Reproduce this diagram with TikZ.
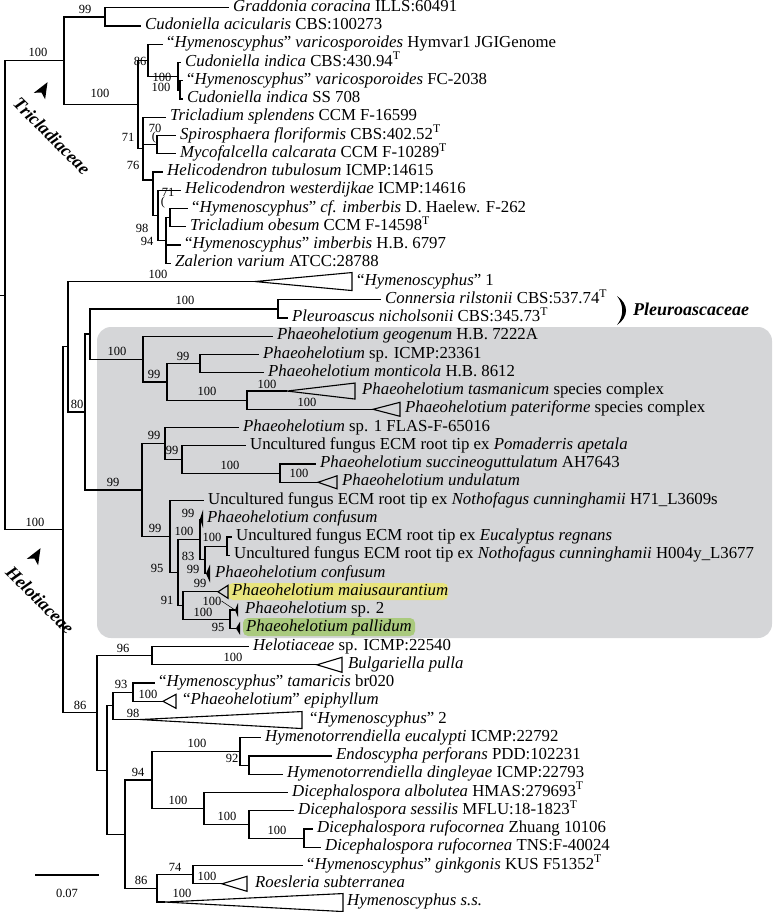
\documentclass[tikz,border=0pt]{standalone}
\usepackage{fontspec}
\setmainfont{Liberation Serif}
\usetikzlibrary{arrows.meta,positioning,calc}
\definecolor{boxgrey}{RGB}{213,214,216}
\definecolor{hlyellow}{RGB}{232,228,125}
\definecolor{hlgreen}{RGB}{170,202,126}
\newcommand{\rowy}[1]{18.25*(#1)-10.45}
\newcommand{\typ}{\textsuperscript{T}}
\tikzset{
  br/.style={line width=1.2pt},
  clps/.style={line width=1.1pt,line join=miter},
  leaf/.style={anchor=west,inner xsep=4pt,inner ysep=0pt,
    text height=11pt,text depth=4pt,font=\fontsize{16.8}{19}\selectfont},
  bs/.style={inner sep=0pt,font=\fontsize{12.5}{14}\selectfont},
  famlbl/.style={inner sep=0pt,font=\fontsize{18}{20}\selectfont\bfseries\itshape},
  hl/.style={rounded corners=5pt},
}
\begin{document}
\begin{tikzpicture}[x=1pt,y=-1pt]
  \useasboundingbox (0,0) rectangle (774,912);
  % shaded Phaeohelotium clade and highlights
  \fill[boxgrey,rounded corners=14pt] (97,327) rectangle (772,638);
  \fill[hlyellow,hl] (228,583) rectangle (448,600);
  \fill[hlgreen,hl] (243,618) rectangle (415,636);

  % internal nodes (x in px, y in rows)
  \coordinate (nBase) at (0,{\rowy{16.75}});
  \coordinate (nR) at (5,{\rowy{16.75}});
  \coordinate (nA) at (64,{\rowy{3.90}});
  \coordinate (nB) at (105,{\rowy{1.5}});
  \coordinate (nC) at (138,{\rowy{6.30}});
  \coordinate (nD) at (148,{\rowy{3.875}});
  \coordinate (nF) at (178,{\rowy{4.75}});
  \coordinate (nG) at (180,{\rowy{5.5}});
  \coordinate (nE) at (143,{\rowy{8.72}});
  \coordinate (nSM) at (157,{\rowy{8.5}});
  \coordinate (nSv) at (153,{\rowy{10.44}});
  \coordinate (nNe) at (158,{\rowy{12.375}});
  \coordinate (nNf) at (166,{\rowy{13.75}});
  \coordinate (nSe) at (170,{\rowy{12.5}});
  \coordinate (nH) at (63,{\rowy{29.6}});
  \coordinate (nI) at (68,{\rowy{19.57}});
  \coordinate (nJ) at (85,{\rowy{23.15}});
  \coordinate (nL) at (90,{\rowy{18.875}});
  \coordinate (nP) at (278,{\rowy{17.5}});
  \coordinate (nPh) at (143,{\rowy{20.25}});
  \coordinate (nM) at (167,{\rowy{21.5}});
  \coordinate (nN) at (200,{\rowy{20.5}});
  \coordinate (nO) at (247,{\rowy{22.5}});
  \coordinate (nQ) at (142,{\rowy{27.42}});
  \coordinate (nRR) at (165,{\rowy{24.875}});
  \coordinate (nU) at (182,{\rowy{25.75}});
  \coordinate (nT) at (280,{\rowy{26.5}});
  \coordinate (nS) at (170,{\rowy{29.97}});
  \coordinate (nV) at (178,{\rowy{31.94}});
  \coordinate (nW) at (200,{\rowy{30.125}});
  \coordinate (nY) at (205,{\rowy{31.25}});
  \coordinate (nZ) at (227,{\rowy{30.5}});
  \coordinate (nX) at (183,{\rowy{33.75}});
  \coordinate (nAA) at (230,{\rowy{34.5}});
  \coordinate (nBB) at (97,{\rowy{39.63}});
  \coordinate (nCC) at (152,{\rowy{36.5}});
  \coordinate (nDD) at (107,{\rowy{42.77}});
  \coordinate (nEE) at (113,{\rowy{39.25}});
  \coordinate (nGG) at (133,{\rowy{38.5}});
  \coordinate (nFF) at (125,{\rowy{46.28}});
  \coordinate (nHH) at (152,{\rowy{43.31}});
  \coordinate (nJJ) at (240,{\rowy{41.75}});
  \coordinate (nLL) at (249,{\rowy{42.5}});
  \coordinate (nKK) at (204,{\rowy{44.875}});
  \coordinate (nMM) at (249,{\rowy{45.75}});
  \coordinate (nNN) at (304,{\rowy{46.5}});
  \coordinate (nII) at (157,{\rowy{49.25}});
  \coordinate (nOO) at (193,{\rowy{48.5}});

  % apices of collapsed clades
  \coordinate (c16) at (255,{\rowy{16}});
  \coordinate (c22) at (287,{\rowy{22}});
  \coordinate (c23) at (373,{\rowy{23}});
  \coordinate (c27) at (318,{\rowy{27}});
  \coordinate (c29) at (200,{\rowy{29}});
  \coordinate (c32) at (206,{\rowy{32}});
  \coordinate (c33) at (218,{\rowy{33}});
  \coordinate (c34) at (235,{\rowy{34}});
  \coordinate (c35) at (236,{\rowy{35}});
  \coordinate (c37) at (317,{\rowy{37}});
  \coordinate (c39) at (163,{\rowy{39}});
  \coordinate (c40) at (140,{\rowy{40}});
  \coordinate (c49) at (222,{\rowy{49}});
  \coordinate (c50) at (165,{\rowy{50}});

  % taxa
  \node[leaf] (l1) at (229,{\rowy{1}}) {\textit{Graddonia coracina} ILLS:60491};
  \node[leaf] (l2) at (141,{\rowy{2}}) {\textit{Cudoniella acicularis} CBS:100273};
  \node[leaf] (l3) at (163,{\rowy{3}}) {``\textit{Hymenoscyphus}'' \textit{varicosporoides} Hymvar1 JGIGenome};
  \node[leaf] (l4) at (181,{\rowy{4}}) {\textit{Cudoniella indica} CBS:430.94\typ};
  \node[leaf] (l5) at (183,{\rowy{5}}) {``\textit{Hymenoscyphus}'' \textit{varicosporoides} FC-2038};
  \node[leaf] (l6) at (183,{\rowy{6}}) {\textit{Cudoniella indica} SS 708};
  \node[leaf] (l7) at (166,{\rowy{7}}) {\textit{Tricladium splendens} CCM F-16599};
  \node[leaf] (l8) at (176,{\rowy{8}}) {\textit{Spirosphaera floriformis} CBS:402.52\typ};
  \node[leaf] (l9) at (176,{\rowy{9}}) {\textit{Mycofalcella calcarata} CCM F-10289\typ};
  \node[leaf] (l10) at (163,{\rowy{10}}) {\textit{Helicodendron tubulosum} ICMP:14615};
  \node[leaf] (l11) at (181,{\rowy{11}}) {\textit{Helicodendron westerdijkae} ICMP:14616};
  \node[leaf] (l12) at (188,{\rowy{12}}) {``\textit{Hymenoscyphus}'' \textit{cf. imberbis} D. Haelew. F-262};
  \node[leaf] (l13) at (186,{\rowy{13}}) {\textit{Tricladium obesum} CCM F-14598\typ};
  \node[leaf] (l14) at (181,{\rowy{14}}) {``\textit{Hymenoscyphus}'' \textit{imberbis} H.B. 6797};
  \node[leaf] (l15) at (171,{\rowy{15}}) {\textit{Zalerion varium} ATCC:28788};
  \node[leaf] (l16) at (353,{\rowy{16}}) {``\textit{Hymenoscyphus}'' 1};
  \node[leaf] (l17) at (381,{\rowy{17}}) {\textit{Connersia rilstonii} CBS:537.74\typ};
  \node[leaf] (l18) at (288,{\rowy{18}}) {\textit{Pleuroascus nicholsonii} CBS:345.73\typ};
  \node[leaf] (l19) at (273,{\rowy{19}}) {\textit{Phaeohelotium geogenum} H.B. 7222A};
  \node[leaf] (l20) at (259,{\rowy{20}}) {\textit{Phaeohelotium} sp. ICMP:23361};
  \node[leaf] (l21) at (264,{\rowy{21}}) {\textit{Phaeohelotium monticola} H.B. 8612};
  \node[leaf] (l22) at (358,{\rowy{22}}) {\textit{Phaeohelotium tasmanicum} species complex};
  \node[leaf] (l23) at (401,{\rowy{23}}) {\textit{Phaeohelotium pateriforme} species complex};
  \node[leaf] (l24) at (239,{\rowy{24}}) {\textit{Phaeohelotium} sp. 1 FLAS-F-65016};
  \node[leaf] (l25) at (246,{\rowy{25}}) {Uncultured fungus ECM root tip ex \textit{Pomaderris apetala}};
  \node[leaf] (l26) at (316,{\rowy{26}}) {\textit{Phaeohelotium succineoguttulatum} AH7643};
  \node[leaf] (l27) at (338,{\rowy{27}}) {\textit{Phaeohelotium undulatum}};
  \node[leaf] (l28) at (204,{\rowy{28}}) {Uncultured fungus ECM root tip ex \textit{Nothofagus cunninghamii} H71\_L3609s};
  \node[leaf] (l29) at (203,{\rowy{29}}) {\textit{Phaeohelotium confusum}};
  \node[leaf] (l30) at (232,{\rowy{30}}) {Uncultured fungus ECM root tip ex \textit{Eucalyptus regnans}};
  \node[leaf] (l31) at (230,{\rowy{31}}) {Uncultured fungus ECM root tip ex \textit{Nothofagus cunninghamii} H004y\_L3677};
  \node[leaf] (l32) at (211,{\rowy{32}}) {\textit{Phaeohelotium confusum}};
  \node[leaf] (l33) at (228,{\rowy{33}}) {\textit{Phaeohelotium maiusaurantium}};
  \node[leaf] (l34) at (241,{\rowy{34}}) {\textit{Phaeohelotium} sp. 2};
  \node[leaf] (l35) at (242,{\rowy{35}}) {\textit{Phaeohelotium pallidum}};
  \node[leaf] (l36) at (249,{\rowy{36}}) {\textit{Helotiaceae} sp. ICMP:22540};
  \node[leaf] (l37) at (344,{\rowy{37}}) {\textit{Bulgariella pulla}};
  \node[leaf] (l38) at (155,{\rowy{38}}) {``\textit{Hymenoscyphus}'' \textit{tamaricis} br020};
  \node[leaf] (l39) at (179,{\rowy{39}}) {``\textit{Phaeohelotium}'' \textit{epiphyllum}};
  \node[leaf] (l40) at (306,{\rowy{40}}) {``\textit{Hymenoscyphus}'' 2};
  \node[leaf] (l41) at (261,{\rowy{41}}) {\textit{Hymenotorrendiella eucalypti} ICMP:22792};
  \node[leaf] (l42) at (332,{\rowy{42}}) {\textit{Endoscypha perforans} PDD:102231};
  \node[leaf] (l43) at (283,{\rowy{43}}) {\textit{Hymenotorrendiella dingleyae} ICMP:22793};
  \node[leaf] (l44) at (288,{\rowy{44}}) {\textit{Dicephalospora albolutea} HMAS:279693\typ};
  \node[leaf] (l45) at (294,{\rowy{45}}) {\textit{Dicephalospora sessilis} MFLU:18-1823\typ};
  \node[leaf] (l46) at (313,{\rowy{46}}) {\textit{Dicephalospora rufocornea} Zhuang 10106};
  \node[leaf] (l47) at (321,{\rowy{47}}) {\textit{Dicephalospora rufocornea} TNS:F-40024};
  \node[leaf] (l48) at (303,{\rowy{48}}) {``\textit{Hymenoscyphus}'' \textit{ginkgonis} KUS F51352\typ};
  \node[leaf] (l49) at (251,{\rowy{49}}) {\textit{Roesleria subterranea}};
  \node[leaf] (l50) at (343,{\rowy{50}}) {\textit{Hymenoscyphus s.s.}};

  % branches
  \draw[br] (nBase) -- (nR);
  \foreach \p/\c in {nR/nA,nR/nH,nA/nB,nA/nC,nC/nD,nC/nE,nD/nF,nF/nG,
      nE/nSM,nE/nSv,nSv/nNe,nNe/nNf,nNf/nSe,nH/nI,nH/nBB,nI/nJ,nJ/nL,nJ/nQ,
      nL/nP,nL/nPh,nPh/nM,nM/nN,nM/nO,nQ/nRR,nQ/nS,nRR/nU,nU/nT,nS/nV,
      nV/nW,nV/nX,nW/nY,nY/nZ,nX/nAA,nBB/nCC,nBB/nDD,nDD/nEE,nDD/nFF,
      nEE/nGG,nFF/nHH,nFF/nII,nHH/nJJ,nHH/nKK,nJJ/nLL,nKK/nMM,nMM/nNN,nII/nOO}
    \draw[br] (\p) |- (\c);
  \foreach \p/\c in {nB/l1,nB/l2,nD/l3,nF/l4,nG/l5,nG/l6,nE/l7,nSM/l8,nSM/l9,
      nSv/l10,nNe/l11,nSe/l12,nSe/l13,nNf/l14,nNf/l15,nP/l17,nP/l18,nPh/l19,
      nN/l20,nN/l21,nRR/l24,nU/l25,nT/l26,nS/l28,nZ/l30,nZ/l31,nCC/l36,
      nGG/l38,nJJ/l41,nLL/l42,nLL/l43,nKK/l44,nMM/l45,nNN/l46,nNN/l47,nOO/l48}
    \draw[br] (\p) |- (\c.west);
  \foreach \p/\c in {nI/c16,nO/c22,nO/c23,nT/c27,nW/c29,nY/c32,nX/c33,
      nAA/c34,nAA/c35,nCC/c37,nGG/c39,nEE/c40,nOO/c49,nII/c50}
    \draw[br] (\p) |- (\c);

  % collapsed clades
  \foreach \c/\w/\u/\d in {c16/97/9/9,c22/68/8/8,c23/27/7/7,c27/19/6.5/6.5,
      c33/10/6.5/6.5,c37/25/7.5/7.5,c39/13/7/7,c40/162/8/9,c49/25/7.5/7.5,
      c50/178/8.5/9.5}
    \draw[clps] (\c) -- ++(\w,-\u) -- ++(0,\u+\d) -- cycle;
  \foreach \c/\w/\h in {c29/3/9,c32/4/9,c34/3/7,c35/4/6.5}
    \fill (\c) -- ++(\w,-\h) -- ++(0,2*\h) -- cycle;

  % support values
  \foreach \x/\y/\t [count=\k] in {38/52/100,85/9/99,100/93/100,140/61/86,
      162/77/100,161/87/100,128/137/71,155/128/70,133/165/76,142/228/98,
      168/192/71,147/241/94,35/522/100,158/274/100,77/404/80,185/300/100,
      117/351/100,154/374/99,183/356/99,207/391/100,267/384/100,307/402/100,
      113/482/99,154/435/99,172/450/99,230/465/100,299/473/100,155/528/99,
      188/513/99,184/531/100,212/537/100,188/556/83,157/568/95,193/569/99,
      200/583/99,167/600/91,203/612/100,218/627/95,123/648/96,233/657/100,
      121/684/93,148/694/100,133/713/98,80/705/86,197/743/100,232/758/92,
      138/772/94,178/800/100,227/816/100,277/830/100,175/867/74,207/876/100,
      141/880/86,182/893/100}
    \node[bs] (bs\k) at (\x,\y) {\t};
  \node[bs] (bsTwo) at (212,601) {100};
  \draw[line width=0.5pt] (bsTwo.east) -- (c34);
  \node[bs] (parA) at (154,137) {(};
  \node[bs] (parB) at (163,202) {(};

  % family labels
  \fill (617,296) .. controls (629,304) and (629,317) .. (617,325)
    .. controls (624,316) and (624,305) .. (617,296) -- cycle;
  \node[famlbl,anchor=west] (fPleu) at (633,309) {Pleuroascaceae};
  \node[famlbl,rotate=-45] (fTric) at (52,136) {Tricladiaceae};
  \node[famlbl,rotate=-45] (fHelo) at (40,600) {Helotiaceae};
  \fill[shift={(43,90)},rotate=60] (9,0) -- (-7,6.5) -- (-3,0) -- (-7,-6.5) -- cycle;
  \fill[shift={(36,556)},rotate=60] (9,0) -- (-7,6.5) -- (-3,0) -- (-7,-6.5) -- cycle;

  % scale bar
  \coordinate (sbL) at (35,875);
  \coordinate (sbR) at (99,875);
  \draw[br] (sbL) -- (sbR);
  \node[bs] (sbLbl) at (67,893) {0.07};
\end{tikzpicture}
\end{document}
